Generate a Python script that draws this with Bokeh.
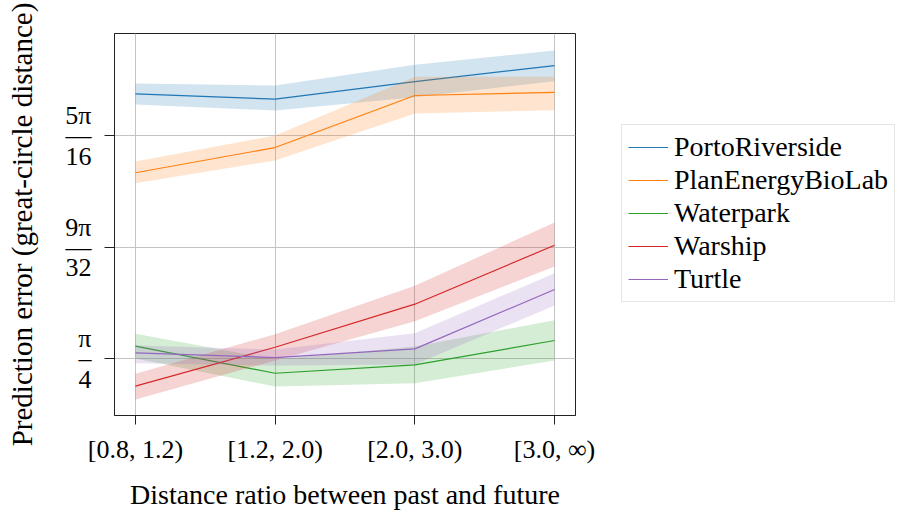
import math

from bokeh.embed import file_html
from bokeh.models import FixedTicker, Legend, LegendItem, Range1d
from bokeh.plotting import figure
from bokeh.resources import INLINE

# Distance-ratio bins on the x axis
categories = ["[0.8, 1.2)", "[1.2, 2.0)", "[2.0, 3.0)", "[3.0, ∞)"]

# Mean prediction error (radians) with the lower / upper edge of the band
porto_mean = [1.0187, 1.0140, 1.0295, 1.0436]
porto_low = [1.0093, 1.0040, 1.0157, 1.0298]
porto_high = [1.0278, 1.0260, 1.0443, 1.0568]

plan_mean = [0.9492, 0.9714, 1.0172, 1.0199]
plan_low = [0.9400, 0.9600, 1.0014, 1.0043]
plan_high = [0.9591, 0.9820, 1.0337, 1.0337]

water_mean = [0.7965, 0.7727, 0.7801, 0.8015]
water_low = [0.7857, 0.7610, 0.7639, 0.7839]
water_high = [0.8074, 0.7848, 0.7962, 0.8194]

warship_mean = [0.7613, 0.7956, 0.8335, 0.8854]
warship_low = [0.7496, 0.7839, 0.8185, 0.8667]
warship_high = [0.7722, 0.8071, 0.8497, 0.9054]

turtle_mean = [0.7907, 0.7865, 0.7942, 0.8464]
turtle_low = [0.7815, 0.7795, 0.7804, 0.8323]
turtle_high = [0.7971, 0.7935, 0.8079, 0.8608]

series_names = ["PortoRiverside", "PlanEnergyBioLab", "Waterpark", "Warship", "Turtle"]
series_colors = ["#1f77b4", "#ff7f0e", "#2ca02c", "#d62728", "#9467bd"]

# y ticks as fractions of pi
tick_values = [math.pi / 4, 9 * math.pi / 32, 5 * math.pi / 16]
tick_numerators = ["π", "9π", "5π"]
tick_denominators = ["4", "32", "16"]

SERIF = "Liberation Serif"

x = list(range(len(categories)))

p = figure(
    width=897, height=511,
    frame_width=461, frame_height=382,
    min_border_left=114, min_border_right=322,
    min_border_top=33, min_border_bottom=96,
    x_range=Range1d(-0.15, 3.15),
    y_range=Range1d(0.7355, 1.0718),
    output_backend="svg",
    toolbar_location=None,
)
p.background_fill_color = "white"
p.border_fill_color = "white"
p.outline_line_color = "#222222"
p.outline_line_width = 1

series = [
    (porto_mean, porto_low, porto_high),
    (plan_mean, plan_low, plan_high),
    (water_mean, water_low, water_high),
    (warship_mean, warship_low, warship_high),
    (turtle_mean, turtle_low, turtle_high),
]

items = []
for (mean, low, high), name, color in zip(series, series_names, series_colors):
    p.varea(x=x, y1=low, y2=high, fill_color=color, fill_alpha=0.2)
    r = p.line(x=x, y=mean, line_color=color, line_width=1.2)
    items.append(LegendItem(label=name, renderers=[r]))

# grid
for g in (p.xgrid, p.ygrid):
    g.grid_line_color = "#c4c4c4"
    g.grid_line_width = 1
p.xgrid.ticker = FixedTicker(ticks=x)
p.ygrid.ticker = FixedTicker(ticks=tick_values)

# x axis
xa = p.xaxis[0]
xa.ticker = FixedTicker(ticks=x)
xa.major_label_overrides = {i: c for i, c in zip(x, categories)}
xa.major_label_text_font = SERIF
xa.major_label_text_font_size = "26px"
xa.major_label_text_color = "black"
xa.major_label_standoff = 10
xa.major_tick_out = 9
xa.major_tick_in = 0
xa.minor_tick_line_color = None
xa.major_tick_line_color = "#222222"
xa.axis_line_color = "#222222"
xa.axis_label = "Distance ratio between past and future"
xa.axis_label_text_font = SERIF
xa.axis_label_text_font_size = "28px"
xa.axis_label_text_font_style = "normal"
xa.axis_label_text_color = "black"
xa.axis_label_standoff = 12

# y axis: each tick label is a stacked fraction (numerator / bar / denominator)
ya = p.yaxis[0]
ya.ticker = FixedTicker(ticks=tick_values)
ya.major_label_overrides = {
    v: f"{num}\n{'—' if len(den) > 1 else '–'}\n{den}"
    for v, num, den in zip(tick_values, tick_numerators, tick_denominators)
}
ya.major_label_text_font = SERIF
ya.major_label_text_font_size = "26px"
ya.major_label_text_line_height = 0.7
ya.major_label_text_color = "black"
ya.major_label_standoff = 13
ya.major_tick_out = 10
ya.major_tick_in = 0
ya.minor_tick_line_color = None
ya.major_tick_line_color = "#222222"
ya.axis_line_color = "#222222"
ya.axis_label = "Prediction error (great-circle distance)"
ya.axis_label_text_font = SERIF
ya.axis_label_text_font_size = "29px"
ya.axis_label_text_font_style = "normal"
ya.axis_label_text_color = "black"
ya.axis_label_standoff = 24

legend = Legend(
    items=items,
    location=(46, 113),
    label_text_font=SERIF,
    label_text_font_size="28px",
    label_text_color="black",
    glyph_width=40,
    glyph_height=32,
    label_height=32,
    label_standoff=6,
    spacing=1,
    padding=6,
    margin=0,
    border_line_color="#cccccc",
    border_line_width=1,
    background_fill_color="white",
    background_fill_alpha=1,
)
p.add_layout(legend, "right")

open("out.html", "w").write(file_html(p, INLINE))
